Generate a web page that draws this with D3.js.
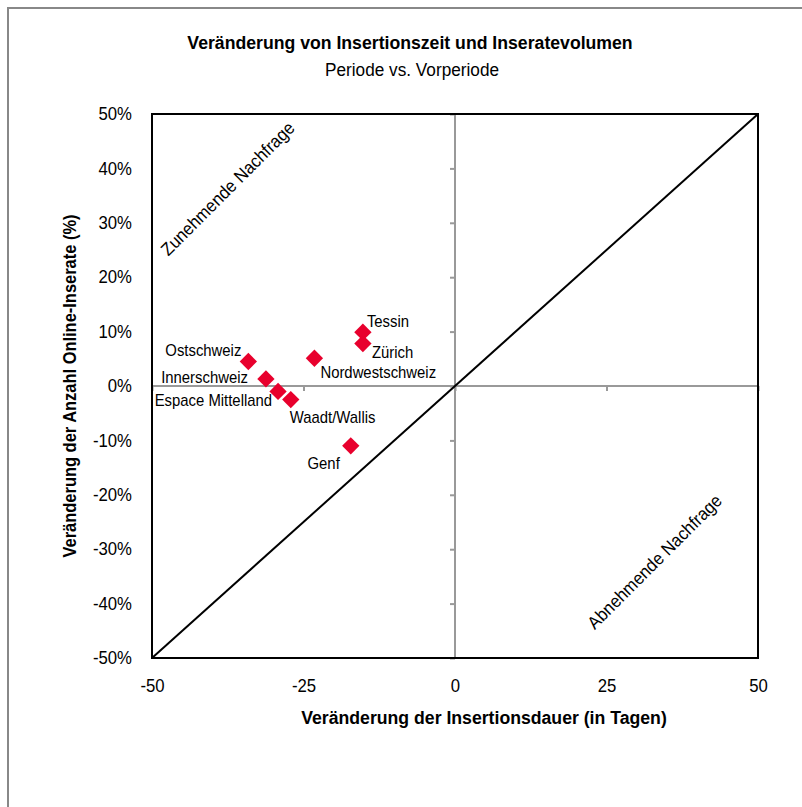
<!DOCTYPE html>
<html><head><meta charset="utf-8">
<script src="https://cdn.jsdelivr.net/npm/d3@7/dist/d3.min.js"></script>
<style>body{margin:0;background:#fff} text{font-family:"Liberation Sans",Arial,Helvetica,sans-serif;fill:#000}</style>
</head><body><svg id="c" width="802" height="807"></svg>
<script>
// ---- data ----
const regions = ["Tessin","Zürich","Nordwestschweiz","Ostschweiz","Innerschweiz","Espace Mittelland","Waadt/Wallis","Genf"];
const durationChange = [-15.2,-15.2,-23.2,-34.1,-31.2,-29.2,-27.1,-17.2];   // days
const volumeChange   = [9.9, 7.8, 5.1, 4.5, 1.3, -1.0, -2.5, -11.0];          // %
const xTicks = [-50,-25,0,25,50];
const yTicks = [-50,-40,-30,-20,-10,0,10,20,30,40,50];
const diagonal = [[-50,-50],[50,50]];
const titleText = "Veränderung von Insertionszeit und Inseratevolumen";
const subtitleText = "Periode vs. Vorperiode";
const xTitle = "Veränderung der Insertionsdauer (in Tagen)";
const yTitle = "Veränderung der Anzahl Online-Inserate (%)";
const quadrantTop = "Zunehmende Nachfrage";
const quadrantBottom = "Abnehmende Nachfrage";

// ---- label placement (style, not data) ----
const labelPlacement = [
  {anchor:"start", dx:4,  dy:-5},
  {anchor:"start", dx:9,  dy:14},
  {anchor:"start", dx:6,  dy:20},
  {anchor:"end",   dx:-7, dy:-6},
  {anchor:"end",   dx:-18,dy:4},
  {anchor:"end",   dx:-6, dy:15},
  {anchor:"start", dx:-1, dy:23},
  {anchor:"end",   dx:-11,dy:23}
];

const SX = 0.93;
const svg = d3.select("#c");
const L = 152, R = 758, T = 114, B = 658;
const x = d3.scaleLinear().domain([-50,50]).range([L,R]);
const y = d3.scaleLinear().domain([-50,50]).range([B,T]);

function putText(parent, px, py, str, o) {
  o = o || {};
  return parent.append("text")
    .attr("transform", `translate(${px},${py}) rotate(${o.rotate||0}) scale(${SX},1)`)
    .attr("text-anchor", o.anchor || "middle")
    .style("font-size", (o.size||18) + "px")
    .style("font-weight", o.weight || "normal")
    .text(str);
}
function squeezeAxisText(g, size) {
  g.selectAll("text").each(function(){
    const t = d3.select(this);
    const tx = +t.attr("x") || 0, ty = +t.attr("y") || 0;
    t.attr("x", null).attr("y", null)
     .attr("transform", `translate(${tx},${ty}) scale(${SX},1)`)
     .style("font-size", size + "px")
     .style("font-family", '"Liberation Sans",Arial,sans-serif')
     .attr("fill", "#000");
  });
}

// outer frame
svg.append("rect").attr("x",8).attr("y",8).attr("width",830).attr("height",830)
  .attr("fill","none").attr("stroke","#888").attr("stroke-width",2);

// titles
putText(svg, 410, 49, titleText, {size:19, weight:"bold"});
putText(svg, 412, 76, subtitleText, {size:18.5});

// zero lines
svg.append("line").attr("x1",x(0)).attr("x2",x(0)).attr("y1",y(50)).attr("y2",y(-50))
  .attr("stroke","#999").attr("stroke-width",2);
svg.append("line").attr("x1",x(-50)).attr("x2",x(50)).attr("y1",y(0)).attr("y2",y(0))
  .attr("stroke","#999").attr("stroke-width",2);

// zero-line ticks
const yTickAxis = svg.append("g").attr("transform",`translate(${x(0)},0)`)
  .call(d3.axisLeft(y).tickValues(yTicks).tickSize(5).tickFormat(""));
yTickAxis.select(".domain").remove();
yTickAxis.selectAll("line").attr("stroke","#999").attr("stroke-width",2);
const xTickAxis = svg.append("g").attr("transform",`translate(0,${y(0)})`)
  .call(d3.axisBottom(x).tickValues(xTicks).tickSize(5).tickFormat(""));
xTickAxis.select(".domain").remove();
xTickAxis.selectAll("line").attr("stroke","#999").attr("stroke-width",2);

// diagonal
svg.append("path").datum(diagonal)
  .attr("d", d3.line().x(d=>x(d[0])).y(d=>y(d[1])))
  .attr("stroke","#000").attr("stroke-width",2).attr("fill","none");

// plot border
svg.append("rect").attr("x",L).attr("y",T).attr("width",R-L).attr("height",B-T)
  .attr("fill","none").attr("stroke","#000").attr("stroke-width",2);

// tick labels
const yLab = svg.append("g").attr("transform",`translate(${L},0)`)
  .call(d3.axisLeft(y).tickValues(yTicks).tickSize(0).tickPadding(20).tickFormat(d=>String(d)+"%"));
yLab.select(".domain").remove();
squeezeAxisText(yLab, 18);
const xLab = svg.append("g").attr("transform",`translate(0,${B})`)
  .call(d3.axisBottom(x).tickValues(xTicks).tickSize(0).tickPadding(21).tickFormat(d=>String(d)));
xLab.select(".domain").remove();
squeezeAxisText(xLab, 18);

// axis titles
putText(svg, 484, 724, xTitle, {size:19, weight:"bold"});
putText(svg, 76, 386, yTitle, {size:17.7, weight:"bold", rotate:-90});

// quadrant labels
putText(svg, 232, 193, quadrantTop, {size:18, rotate:-45});
putText(svg, 659, 566, quadrantBottom, {size:18, rotate:-45});

// points
const pts = regions.map((r,i)=>({name:r, dx:durationChange[i], dv:volumeChange[i], lp:labelPlacement[i]}));
svg.append("g").selectAll("path").data(pts).join("path")
  .attr("d", d3.symbol().type(d3.symbolSquare).size(150))
  .attr("transform", d=>`translate(${x(d.dx)},${y(d.dv)}) rotate(45)`)
  .attr("fill","#e8002d");

// point labels
const lg = svg.append("g");
pts.forEach(d=>{
  putText(lg, x(d.dx)+d.lp.dx, y(d.dv)+d.lp.dy, d.name, {size:16, anchor:d.lp.anchor});
});
</script></body></html>
